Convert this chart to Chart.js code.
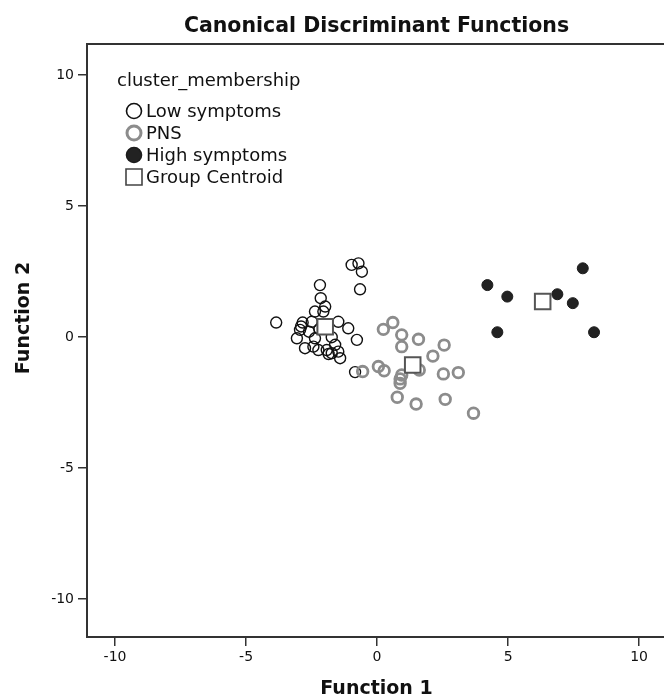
<!DOCTYPE html>
<html>
<head>
<meta charset="utf-8">
<script src="https://cdn.jsdelivr.net/npm/chart.js@4"></script>
<style>
  html, body { margin: 0; padding: 0; background: #fff; }
  #wrap { width: 664px; height: 698px; overflow: hidden; }
</style>
</head>
<body>
<div id="wrap"><canvas id="cdfChart" width="664" height="698"></canvas></div>
<script>
// values
const lowX = [-0.97, -0.71, -0.58, -0.65, -2.18, -2.15, -1.98, -2.37, -2.05, -3.85, -2.84, -2.49, -1.48,
  -2.94, -1.10, -3.06, -2.37, -1.73, -0.77, -2.75, -2.43, -2.24, -1.92, -1.73, -1.48, -1.41, -0.84,
  -2.60, -2.20, -1.60, -2.90, -1.85];
const lowY = [2.75, 2.81, 2.49, 1.82, 1.98, 1.48, 1.16, 0.97, 0.97, 0.55, 0.55, 0.58, 0.58,
  0.27, 0.33, -0.05, -0.05, -0.01, -0.11, -0.43, -0.37, -0.50, -0.50, -0.62, -0.56, -0.81, -1.34,
  0.20, 0.30, -0.30, 0.40, -0.65];
const pnsX = [0.24, 0.60, 0.94, 0.94, 1.58, 2.56, 2.13, 0.05, 0.27, -0.55, 0.94, 1.61, 0.88, 0.88,
  2.53, 3.10, 0.77, 1.49, 2.60, 3.68];
const pnsY = [0.29, 0.55, 0.08, -0.37, -0.09, -0.31, -0.73, -1.13, -1.29, -1.32, -1.45, -1.26, -1.77, -1.60,
  -1.41, -1.36, -2.30, -2.56, -2.38, -2.91];
const highX = [4.21, 4.97, 4.59, 6.88, 7.47, 7.85, 8.28];
const highY = [1.98, 1.54, 0.18, 1.63, 1.29, 2.62, 0.18];
const centroidX = [-1.98, 1.36, 6.32];
const centroidY = [0.39, -1.07, 1.35];
const tickValues = [-10, -5, 0, 5, 10];
const legendLabels = ["Low symptoms", "PNS", "High symptoms", "Group Centroid"];

const toPoints = (xs, ys) => xs.map((x, i) => ({ x: x, y: ys[i] }));

const datasets = [
  {
    label: legendLabels[0],
    data: toPoints(lowX, lowY),
    pointStyle: "circle",
    pointRadius: 5.5,
    pointBorderWidth: 1.4,
    pointBorderColor: "#111",
    pointBackgroundColor: "rgba(0,0,0,0)",
    order: 3,
  },
  {
    label: legendLabels[1],
    data: toPoints(pnsX, pnsY),
    pointStyle: "circle",
    pointRadius: 5.3,
    pointBorderWidth: 2.8,
    pointBorderColor: "#8c8c8c",
    pointBackgroundColor: "rgba(0,0,0,0)",
    order: 2,
  },
  {
    label: legendLabels[2],
    data: toPoints(highX, highY),
    pointStyle: "circle",
    pointRadius: 5.5,
    pointBorderWidth: 1,
    pointBorderColor: "#1c1c1c",
    pointBackgroundColor: "#222",
    order: 1,
  },
  {
    label: legendLabels[3],
    data: toPoints(centroidX, centroidY),
    pointStyle: "rect",
    pointRadius: 11,
    pointBorderWidth: 2,
    pointBorderColor: "#555",
    pointBackgroundColor: "#fff",
    order: 0,
  },
];

// title, frame, legend inside the plot, axis titles
const framePlugin = {
  id: "frame",
  afterDraw(chart) {
    const { ctx, chartArea: a } = chart;
    const midX = (a.left + a.right) / 2;
    ctx.save();
    ctx.strokeStyle = "#333";
    ctx.lineWidth = 2;
    ctx.strokeRect(a.left, a.top, a.right - a.left + 4, a.bottom - a.top);

    ctx.fillStyle = "#111";
    ctx.textAlign = "center";
    ctx.textBaseline = "alphabetic";
    ctx.font = "bold 20.5px 'DejaVu Sans'";
    ctx.fillText("Canonical Discriminant Functions", midX + 1, 32);
    ctx.font = "bold 19px 'DejaVu Sans'";
    ctx.fillText("Function 1", midX + 1, 694);

    // legend
    ctx.textBaseline = "middle";
    ctx.textAlign = "left";
    ctx.font = "18px 'DejaVu Sans'";
    ctx.fillText("cluster_membership", 117, 81);
    const rows = [111, 133, 155, 177];
    datasets.forEach((ds, i) => {
      const y = rows[i];
      ctx.lineWidth = i === 1 ? 3 : 1.6;
      ctx.strokeStyle = ds.pointBorderColor;
      ctx.fillStyle = ds.pointBackgroundColor;
      ctx.beginPath();
      if (i === 3) {
        ctx.rect(126, y - 8, 16, 16);
        ctx.fillStyle = "#fff";
        ctx.strokeStyle = "#444";
        ctx.lineWidth = 1.6;
      } else {
        ctx.arc(134, y, i === 1 ? 7 : 7.5, 0, Math.PI * 2);
      }
      ctx.fill();
      ctx.stroke();
      ctx.fillStyle = "#111";
      ctx.fillText(ds.label, 146, y + 1);
    });

    // y axis title
    ctx.translate(29, 318);
    ctx.rotate(-Math.PI / 2);
    ctx.textAlign = "center";
    ctx.textBaseline = "alphabetic";
    ctx.font = "bold 19px 'DejaVu Sans'";
    ctx.fillText("Function 2", 0, 0);
    ctx.restore();
  },
};

const ctx = document.getElementById("cdfChart").getContext("2d");
new Chart(ctx, {
  type: "scatter",
  data: { datasets: datasets },
  options: {
    responsive: false,
    animation: false,
    layout: { autoPadding: false, padding: { top: 44, right: 0, bottom: 0, left: 0 } },
    scales: {
      x: {
        type: "linear",
        min: -11.07,
        max: 10.95,
        afterBuildTicks: (scale) => { scale.ticks = tickValues.map((v) => ({ value: v })); },
        afterFit: (scale) => { scale.height = 61; scale.paddingLeft = 0; scale.paddingRight = 0; },
        grid: { display: true, drawOnChartArea: false, drawTicks: true, tickLength: 9, color: "#333", lineWidth: 1.5 },
        border: { display: false },
        ticks: { color: "#111", font: { size: 14, family: "DejaVu Sans" }, padding: 3, maxRotation: 0 },
      },
      y: {
        type: "linear",
        min: -11.45,
        max: 11.18,
        afterBuildTicks: (scale) => { scale.ticks = tickValues.map((v) => ({ value: v })); },
        afterFit: (scale) => { scale.width = 87; scale.paddingTop = 0; scale.paddingBottom = 0; },
        grid: { display: true, drawOnChartArea: false, drawTicks: true, tickLength: 9, color: "#333", lineWidth: 1.5 },
        border: { display: false },
        ticks: { color: "#111", font: { size: 14, family: "DejaVu Sans" }, padding: 4 },
      },
    },
    plugins: {
      legend: { display: false },
      tooltip: { enabled: false },
      title: { display: false },
    },
  },
  plugins: [framePlugin],
});
</script>
</body>
</html>
